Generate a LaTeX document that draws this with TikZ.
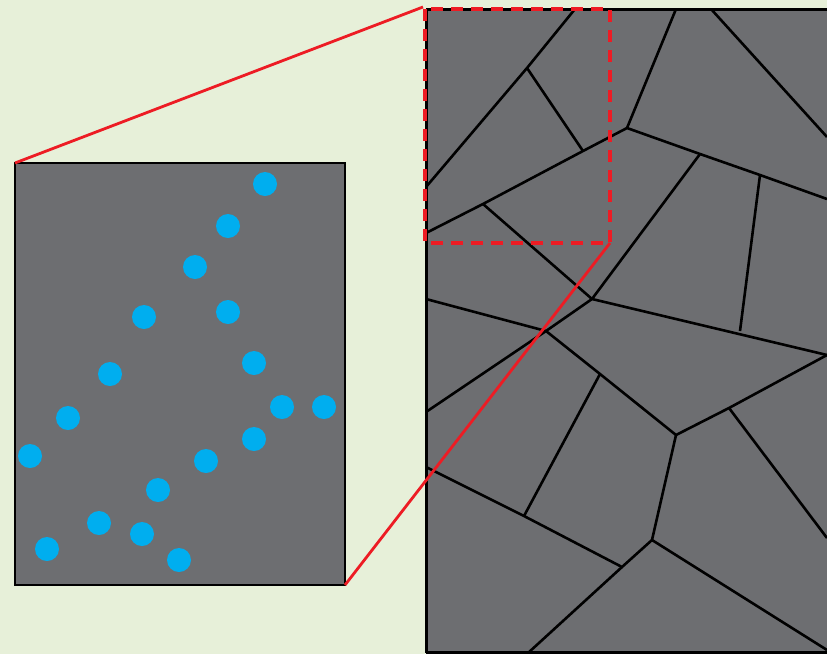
\documentclass[tikz,border=0pt]{standalone}
\usepackage{tikz}
\definecolor{bgg}{HTML}{E7F0D9}
\definecolor{panel}{HTML}{6D6E71}
\definecolor{dotb}{HTML}{00AEEF}
\definecolor{zred}{HTML}{ED1C24}
\tikzset{
  cell/.style={black, line width=2.6pt, line join=round},
  zoomline/.style={zred, line width=2.8pt},
  zoombox/.style={zred, line width=3.5pt, dash pattern=on 12pt off 8pt},
  site/.style={circle, fill=dotb, inner sep=0pt, minimum size=24pt}
}
\begin{document}
\begin{tikzpicture}[x=1pt,y=-1pt]
\useasboundingbox (0,0) rectangle (827,654);
\clip (0,0) rectangle (827,654);
\fill[bgg] (0,0) rectangle (827,654);

% left panel
\filldraw[fill=panel, draw=black, line width=1.6pt] (15,163) rectangle (345,585);
\coordinate (lt) at (15,163);
\coordinate (rb) at (345,585);
\foreach \n/\x/\y in {a/265/184, b/228/226, c/195/267, d/144/317, e/228/312,
  f/110/374, g/254/363, h/68/418, i/282/407, j/324/407, k/254/439,
  l/30/456, m/206/461, n/158/490, o/99/523, p/142/534, q/47/549, r/179/560}
  \node[site] (s\n) at (\x,\y) {};

% right panel
\fill[panel] (426,9) rectangle (840,653);

% vertices
\coordinate (A) at (527,68);
\coordinate (B) at (583,151);
\coordinate (C) at (627,128);
\coordinate (D) at (483,204);
\coordinate (E) at (700,154);
\coordinate (F) at (760,175);
\coordinate (G) at (592,299);
\coordinate (V) at (546,331);
\coordinate (H) at (740,331);
\coordinate (I) at (600,374);
\coordinate (J) at (676,435);
\coordinate (K) at (729,408);
\coordinate (L) at (524,516);
\coordinate (M) at (622,567);
\coordinate (N) at (652,540);

\draw[cell] (575,9) -- (A) -- (426,187);
\draw[cell] (A) -- (B);
\draw[cell] (426,233) -- (D) -- (B) -- (C) -- (676,9);
\draw[cell] (C) -- (E) -- (F) -- (827,199);
\draw[cell] (711,9) -- (827,137);
\draw[cell] (E) -- (G);
\draw[cell] (D) -- (G);
\draw[cell] (F) -- (H);
\draw[cell] (426,299) -- (V) -- (G) -- (827,355);
\draw[cell] (V) -- (426,412);
\draw[cell] (V) -- (I) -- (J) -- (K) -- (827,355);
\draw[cell] (K) -- (827,538);
\draw[cell] (I) -- (L);
\draw[cell] (J) -- (N);
\draw[cell] (426,467) -- (L) -- (M) -- (N) -- (827,650);
\draw[cell] (M) -- (528,653);

\draw[black, line width=2.6pt] (426.3,9.3) -- (840,9.3);
\draw[black, line width=2.6pt] (426.3,9.3) -- (426.3,653);
\draw[black, line width=2.6pt] (426.3,652.7) -- (840,652.7);

% zoom indicator
\coordinate (zt) at (425,9);
\coordinate (zb) at (610,243);
\draw[zoombox] (zt) rectangle (zb);
\draw[zoomline] (lt) -- (423,7);
\draw[zoomline] (rb) -- (zb);
\end{tikzpicture}
\end{document}
